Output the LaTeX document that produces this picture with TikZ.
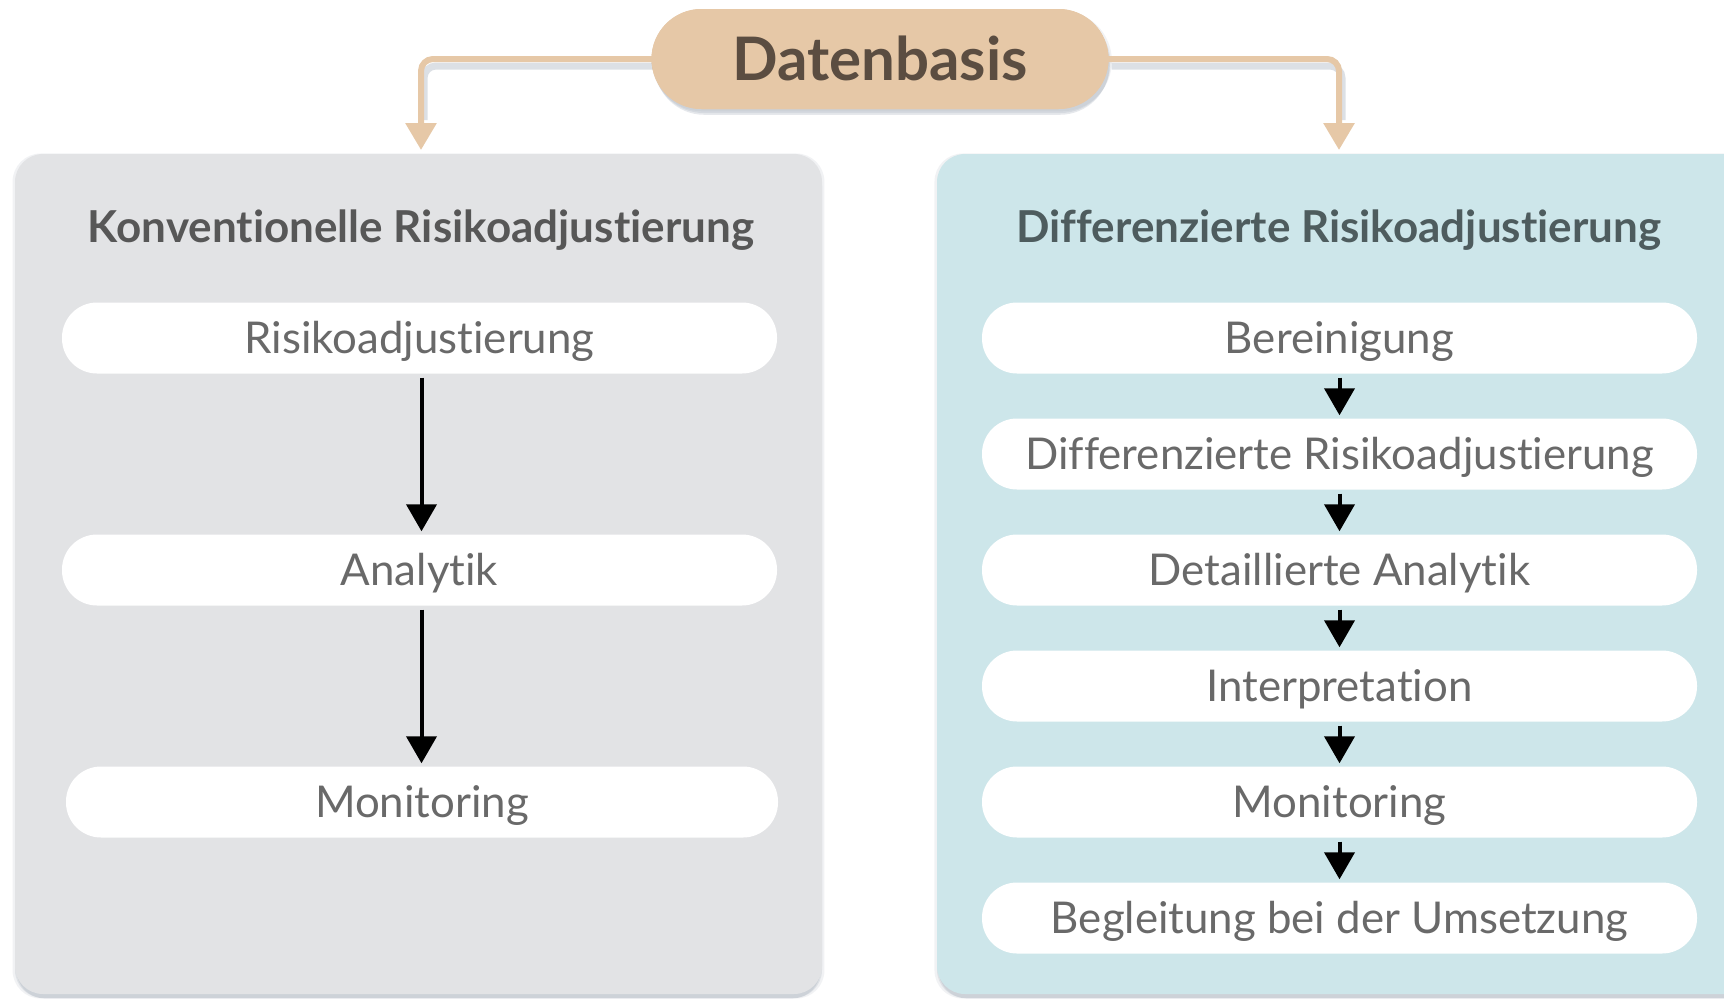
\documentclass[tikz,border=0pt]{standalone}
\usepackage{fontspec}
\setmainfont{Lato}[Ligatures=NoCommon]
\usetikzlibrary{arrows.meta,shadows}

\definecolor{tan}{HTML}{E6C8A7}
\definecolor{tantext}{HTML}{5B4D41}
\definecolor{greypanel}{HTML}{E2E3E5}
\definecolor{bluepanel}{HTML}{CDE6EA}
\definecolor{greytitle}{HTML}{575757}
\definecolor{bluetitle}{HTML}{4E5C5E}
\definecolor{pilltext}{HTML}{696969}
\definecolor{shade}{HTML}{8E9AAA}

\tikzset{
  soft shadow/.style={
    drop shadow={shadow xshift=#1, shadow yshift=-2pt, shadow scale=1.006, fill=shade, opacity=0.12},
    drop shadow={shadow xshift=#1, shadow yshift=-4pt, fill=shade, opacity=0.18},
    drop shadow={shadow xshift=#1, shadow yshift=-6pt, shadow scale=0.996, fill=shade, opacity=0.22}},
  panel/.style={rounded corners=28pt, draw=none, soft shadow=0pt},
  paneltitle/.style={font=\fontsize{44}{52}\selectfont\bfseries, anchor=center,
    text height=31.5pt, text depth=0pt, inner sep=0pt},
  pill/.style={fill=white, rounded corners=35pt, minimum height=71pt,
    text=pilltext, font=\fontsize{43.8}{50}\selectfont, inner sep=0pt,
    text height=31pt, text depth=0pt},
  hub/.style={fill=tan, rounded corners=50pt, minimum width=457pt, minimum height=100pt,
    text=tantext, font=\fontsize{60}{70}\selectfont\bfseries,
    text height=43pt, text depth=0pt, inner sep=0pt},
  hubshadow/.style={hub, soft shadow=2pt},
  feed/.style={draw=tan, line width=6pt, rounded corners=12pt,
    -{Triangle[width=30pt,length=27pt]}},
  feedshade/.style={draw=shade, line width=7pt, rounded corners=12pt},
  flow/.style={draw=black, line width=4pt, -{Triangle[width=30pt,length=27pt]},
    shorten <=4pt, shorten >=3pt},
}

\begin{document}
\begin{tikzpicture}[x=1pt,y=-1pt]
  \useasboundingbox (0,0) rectangle (1724,999);
  \fill[white] (0,0) rectangle (1724,999);
  \clip (0,0) rectangle (1724,999);

  % two column panels
  \path[panel, fill=greypanel] (15,154) rectangle (822,994);
  \path[panel, fill=bluepanel] (937,154) rectangle (1780,994);

  \node[paneltitle, text=greytitle] (ltitle) at (421,227) {Konventionelle Risikoadjustierung};
  \node[paneltitle, text=bluetitle] (rtitle) at (1339,227) {Differenzierte Risikoadjustierung};

  % conventional process
  \node[pill, minimum width=715pt] (l1) at (419.5,338) {Risikoadjustierung};
  \node[pill, minimum width=715pt] (l2) at (419.5,570) {Analytik};
  \node[pill, minimum width=712pt] (l3) at (422,802) {Monitoring};

  \draw[flow] ([xshift=2pt]l1.south) -- ([xshift=2pt]l2.north);
  \draw[flow] ([xshift=2pt]l2.south) -- ([xshift=2pt]l2.south |- l3.north);

  % differentiated process
  \node[pill, minimum width=715pt] (r1) at (1339.5,338) {Bereinigung};
  \node[pill, minimum width=715pt] (r2) at (1339.5,454) {Differenzierte Risikoadjustierung};
  \node[pill, minimum width=715pt] (r3) at (1339.5,570) {Detaillierte Analytik};
  \node[pill, minimum width=715pt] (r4) at (1339.5,686) {Interpretation};
  \node[pill, minimum width=715pt] (r5) at (1339.5,802) {Monitoring};
  \node[pill, minimum width=715pt] (r6) at (1339.5,918) {Begleitung bei der Umsetzung};

  \foreach \a/\b in {r1/r2, r2/r3, r3/r4, r4/r5, r5/r6}
    \draw[flow] (\a.south) -- (\b.north);

  % data basis feeding both columns
  \coordinate (lin) at (421,150);
  \coordinate (rin) at (1339,150);
  \node[hubshadow] (db) at (880,59) {};

  \begin{scope}[transparency group, opacity=0.3]
    \draw[feedshade] ([xshift=3pt,yshift=-7pt]db.west) -| ([xshift=3pt,yshift=30pt]lin);
    \draw[feedshade] ([xshift=3pt,yshift=-7pt]db.east) -| ([xshift=3pt,yshift=30pt]rin);
  \end{scope}
  \draw[feed] ([xshift=2pt]db.west) -| (lin);
  \draw[feed] ([xshift=-2pt]db.east) -| (rin);
  \node[hub] (dbt) at (db) {Datenbasis};
\end{tikzpicture}
\end{document}
